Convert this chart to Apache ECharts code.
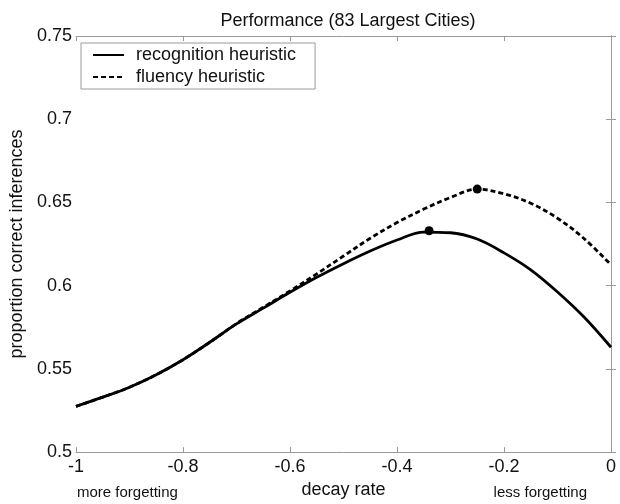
<!DOCTYPE html>
<html>
<head>
<meta charset="utf-8">
<script src="https://cdn.jsdelivr.net/npm/echarts@6/dist/echarts.min.js"></script>
<style>html,body{margin:0;padding:0;background:#fff;}#c{width:620px;height:504px;}</style>
</head>
<body>
<div id="c"></div>
<script>
// decay rate values
var decayRates = [-1.00, -0.95, -0.90, -0.85, -0.80, -0.75, -0.70, -0.65, -0.60, -0.55, -0.50,
                  -0.45, -0.40, -0.35, -0.30, -0.25, -0.20, -0.15, -0.10, -0.05, 0.00];
var recognition = [0.5275, 0.5330, 0.5390, 0.5465, 0.5555, 0.5660, 0.5770, 0.5865, 0.5960, 0.6050, 0.6132,
                   0.6208, 0.6274, 0.6322, 0.6318, 0.6280, 0.6197, 0.6095, 0.5962, 0.5810, 0.5630];
var fluency     = [0.5275, 0.5330, 0.5390, 0.5465, 0.5555, 0.5660, 0.5772, 0.5870, 0.5968, 0.6071, 0.6178,
                   0.6285, 0.6379, 0.6460, 0.6530, 0.6580, 0.6552, 0.6495, 0.6405, 0.6282, 0.6125];
var recognitionPeak = [-0.34, 0.633];
var fluencyPeak = [-0.25, 0.658];
var seriesNames = ['recognition heuristic', 'fluency heuristic'];
var titleText = 'Performance (83 Largest Cities)';
var xName = 'decay rate';
var yName = 'proportion correct inferences';
var leftNote = 'more forgetting';
var rightNote = 'less forgetting';

function pairs(xs, ys) { return xs.map(function (x, i) { return [x, ys[i]]; }); }

var FONT = '"Liberation Sans", Arial, Helvetica, sans-serif';
var AX = '#9a9a9a';
var TXT = '#111';

var chart = echarts.init(document.getElementById('c'), null, {renderer: 'canvas'});
var axisCommon = {
  type: 'value',
  axisLine: {show: true, lineStyle: {color: AX, width: 1}},
  axisTick: {show: true, inside: true, length: 5, lineStyle: {color: AX}},
  splitLine: {show: false}
};
chart.setOption({
  animation: false,
  backgroundColor: '#fff',
  title: {
    text: titleText, left: 343, top: 7, textAlign: 'center',
    textStyle: {fontFamily: FONT, fontSize: 18, fontWeight: 'normal', color: TXT}
  },
  grid: {left: 76, right: 9, top: 36, bottom: 46, containLabel: false},
  legend: {
    data: seriesNames,
    orient: 'vertical', left: 81, top: 43,
    padding: [3, 19, 3, 11], itemGap: 4,
    itemWidth: 31, itemHeight: 14,
    borderColor: AX, borderWidth: 1, backgroundColor: '#fff',
    itemStyle: {opacity: 0},
    textStyle: {fontFamily: FONT, fontSize: 18, color: TXT, lineHeight: 18, padding: [0, 0, 0, 7]}
  },
  xAxis: [
    Object.assign({}, axisCommon, {
      min: -1, max: 0, interval: 0.2, position: 'bottom',
      name: xName, nameLocation: 'middle', nameGap: 33,
      nameTextStyle: {fontFamily: FONT, fontSize: 18, color: TXT, verticalAlign: 'middle'},
      axisLabel: {fontFamily: FONT, fontSize: 18, color: TXT, margin: 6,
        formatter: function (v) { return String(+v.toFixed(2)); }}
    }),
    Object.assign({}, axisCommon, {
      min: -1, max: 0, interval: 0.2, position: 'top', axisLabel: {show: false}
    })
  ],
  yAxis: [
    Object.assign({}, axisCommon, {
      min: 0.5, max: 0.75, interval: 0.05, position: 'left',
      name: yName, nameLocation: 'middle', nameGap: 53, nameRotate: 90,
      nameTextStyle: {fontFamily: FONT, fontSize: 18, color: TXT, verticalAlign: 'middle'},
      axisLabel: {fontFamily: FONT, fontSize: 18, color: TXT, margin: 4,
        formatter: function (v) { return String(+v.toFixed(2)); }}
    }),
    Object.assign({}, axisCommon, {
      min: 0.5, max: 0.75, interval: 0.05, position: 'right', axisLabel: {show: false}
    })
  ],
  series: [
    {
      name: seriesNames[0], type: 'line', data: pairs(decayRates, recognition),
      symbol: 'none', smooth: 0.35, color: '#000',
      lineStyle: {color: '#000', width: 2.8, type: 'solid'}, z: 3
    },
    {
      name: seriesNames[1], type: 'line', data: pairs(decayRates, fluency),
      symbol: 'none', smooth: 0.35, color: '#000',
      lineStyle: {color: '#000', width: 2.8, type: [5, 3]}, z: 2
    },
    {
      name: 'peaks', type: 'scatter', data: [recognitionPeak, fluencyPeak],
      symbol: 'circle', symbolSize: 9, itemStyle: {color: '#000', opacity: 1}, z: 4
    }
  ],
  graphic: [
    {type: 'text', left: 77, top: 485, style: {text: leftNote, font: '15px ' + FONT, fill: TXT}},
    {type: 'text', right: 33, top: 485, style: {text: rightNote, font: '15px ' + FONT, fill: TXT}}
  ]
});
</script>
</body>
</html>
